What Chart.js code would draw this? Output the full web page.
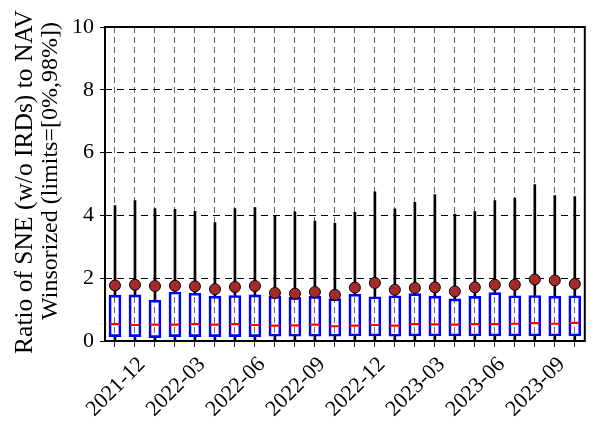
<!DOCTYPE html>
<html>
<head>
<meta charset="utf-8">
<script src="https://cdn.jsdelivr.net/npm/chart.js@4"></script>
<style>
  html, body { margin: 0; padding: 0; background: #fff; }
  #wrap { width: 592px; height: 426px; }
</style>
</head>
<body>
<div id="wrap"><canvas id="chart"></canvas></div>
<script>
const months = [
  "2021-12","2022-01","2022-02","2022-03","2022-04","2022-05","2022-06","2022-07",
  "2022-08","2022-09","2022-10","2022-11","2022-12","2023-01","2023-02","2023-03",
  "2023-04","2023-05","2023-06","2023-07","2023-08","2023-09","2023-10","2023-11"
];
const lowerWhisker = [0,0,0,0,0,0,0,0,0,0,0,0,0,0,0,0,0,0,0,0,0,0,0,0];
const q1 = [0.14,0.14,0.11,0.14,0.14,0.14,0.14,0.14,0.15,0.15,0.15,0.15,
            0.16,0.16,0.15,0.16,0.16,0.16,0.16,0.16,0.16,0.16,0.16,0.16];
const medians = [0.54,0.51,0.52,0.52,0.54,0.52,0.54,0.51,0.49,0.50,0.52,0.47,
                 0.49,0.51,0.49,0.54,0.53,0.52,0.54,0.54,0.55,0.57,0.55,0.58];
const q3 = [1.46,1.47,1.30,1.56,1.52,1.43,1.45,1.47,1.43,1.39,1.42,1.35,
            1.49,1.41,1.44,1.51,1.43,1.34,1.42,1.54,1.44,1.45,1.43,1.44];
const upperWhisker = [4.31,4.47,4.22,4.19,4.13,3.77,4.22,4.25,3.98,4.11,3.82,3.75,
                      4.10,4.75,4.21,4.42,4.66,4.04,4.12,4.47,4.55,4.98,4.63,4.60];
const means = [1.77,1.79,1.75,1.76,1.74,1.65,1.72,1.75,1.53,1.51,1.56,1.47,
               1.70,1.85,1.63,1.69,1.71,1.58,1.71,1.79,1.79,1.96,1.93,1.82];
const yTicks = [0,2,4,6,8,10];
const yTitle = ["Ratio of SNE (w/o IRDs) to NAV", "Winsorized (limits=[0%,98%])"];
const labelEvery = 3;

const serif = "'Liberation Serif', 'Times New Roman', Times, serif";

// frame, y title and rotated month labels (centred on the tick like matplotlib)
const frameAndLabels = {
  id: "frameAndLabels",
  afterDraw(chart) {
    const ctx = chart.ctx, a = chart.chartArea, xs = chart.scales.x;
    const midY = (a.top + a.bottom) / 2;
    ctx.save();
    ctx.strokeStyle = "#000";
    ctx.lineWidth = 2;
    ctx.strokeRect(a.left, a.top, a.right - a.left, a.bottom - a.top);
    ctx.fillStyle = "#000";

    // y axis title, two lines
    ctx.textAlign = "center";
    ctx.textBaseline = "alphabetic";
    [[yTitle[0], 32, midY - 2, 25.5], [yTitle[1], 57, midY - 13, 24]].forEach(([t, x, y, size]) => {
      ctx.save();
      ctx.font = size + "px " + serif;
      ctx.translate(x, y);
      ctx.rotate(-Math.PI / 2);
      ctx.fillText(t, 0, 0);
      ctx.restore();
    });

    ctx.font = "22px " + serif;
    ctx.textBaseline = "middle";
    months.forEach((m, i) => {
      if (i % labelEvery !== 0) return;
      ctx.save();
      ctx.translate(xs.getPixelForTick(i) + 1, a.bottom + 46);
      ctx.rotate(-Math.PI / 4);
      ctx.fillText(m, 0, 0);
      ctx.restore();
    });
    ctx.restore();
  }
};

new Chart("chart", {
  data: {
    labels: months,
    datasets: [
      {
        type: "line",
        label: "mean",
        data: means,
        showLine: false,
        pointRadius: 5.5,
        pointBackgroundColor: "#a52a2a",
        pointBorderColor: "#000",
        pointBorderWidth: 1,
        order: 0
      },
      {
        type: "line",
        label: "median",
        data: medians,
        showLine: false,
        pointStyle: "line",
        pointRadius: 5,
        pointBorderColor: "#ff0000",
        pointBorderWidth: 2.2,
        order: 1
      },
      {
        type: "bar",
        label: "box",
        data: q1.map((v, i) => [v, q3[i]]),
        backgroundColor: "rgba(0,0,0,0)",
        borderColor: "#0000ff",
        borderWidth: 2,
        borderSkipped: false,
        barThickness: 12,
        grouped: false,
        order: 2
      },
      {
        type: "bar",
        label: "upper whisker",
        data: q3.map((v, i) => [v, upperWhisker[i]]),
        backgroundColor: "#000",
        barThickness: 2,
        grouped: false,
        order: 3
      },
      {
        type: "bar",
        label: "lower whisker",
        data: lowerWhisker.map((v, i) => [v, q1[i]]),
        backgroundColor: "#000",
        barThickness: 2,
        grouped: false,
        order: 3
      }
    ]
  },
  options: {
    responsive: true,
    maintainAspectRatio: false,
    animation: false,
    events: [],
    layout: { padding: { left: 0, top: 27, right: 4, bottom: 0 } },
    plugins: { legend: { display: false }, tooltip: { enabled: false } },
    scales: {
      x: {
        type: "category",
        offset: true,
        grid: {
          offset: false,
          color: "rgba(0,0,0,0.6)",
          lineWidth: 1,
          tickLength: 6,
          tickColor: "#333",
          tickBorderDash: []
        },
        border: { display: false, dash: [6, 4] },
        ticks: { display: false, autoSkip: false },
        afterFit(s) { s.height = 85; }
      },
      y: {
        min: 0,
        max: 10,
        afterBuildTicks(s) { s.ticks = yTicks.map(v => ({ value: v })); },
        grid: {
          color: "#000",
          lineWidth: 1,
          tickLength: 5,
          tickColor: "#000",
          tickBorderDash: []
        },
        border: { display: false, dash: [7, 5] },
        ticks: {
          color: "#000",
          padding: 6,
          font: { family: serif, size: 22 }
        },
        title: { display: false },
        afterFit(s) { s.width = 105; }
      }
    }
  },
  plugins: [frameAndLabels]
});
</script>
</body>
</html>
